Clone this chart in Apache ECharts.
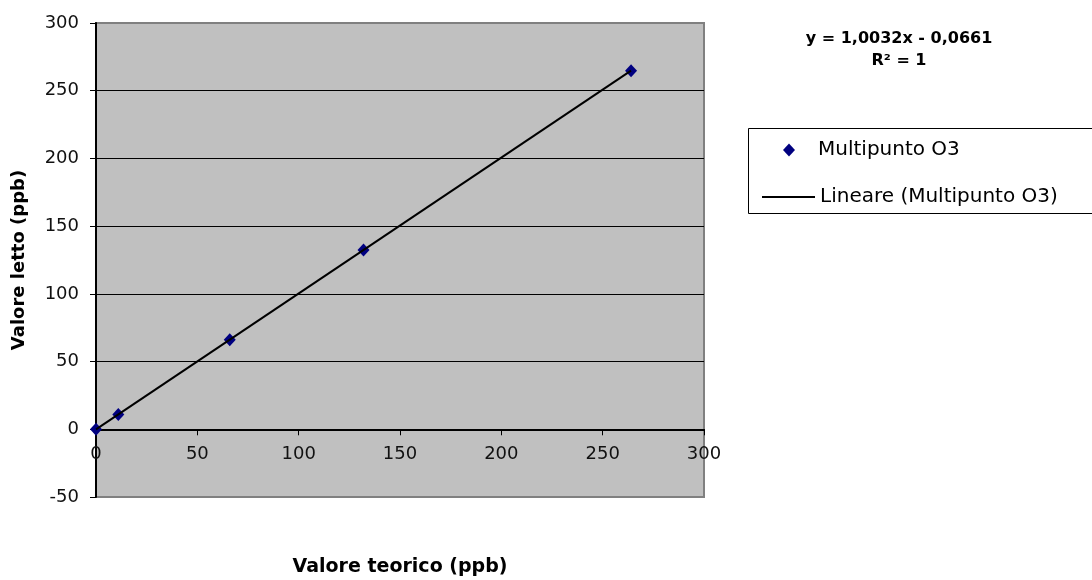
<!DOCTYPE html>
<html>
<head>
<meta charset="utf-8">
<script src="https://cdn.jsdelivr.net/npm/echarts@6/dist/echarts.min.js"></script>
<style>
  html, body { margin: 0; padding: 0; background: #fff; }
  #chart { width: 1092px; height: 580px; }
</style>
</head>
<body>
<div id="chart"></div>
<script>
// Multipoint O3 calibration: theoretical vs. read values (ppb)
const theoreticalPpb = [0, 11, 66, 132, 264];
const readPpb = [0, 11, 66.1, 132.4, 264.8];

// Linear trendline coefficients (as stated in the equation label)
const trendSlope = 1.0032;
const trendIntercept = -0.0661;
const trendR2 = 1;

// Axis ranges and tick step
const xAxisRange = [0, 300];
const yAxisRange = [-50, 300];
const tickStep = 50;

const seriesName = 'Multipunto O3';
const trendName = 'Lineare (Multipunto O3)';
const xAxisTitle = 'Valore teorico (ppb)';
const yAxisTitle = 'Valore letto (ppb)';

const FONT = '"DejaVu Sans", "Liberation Sans", Arial, sans-serif';

const points = theoreticalPpb.map((x, i) => [x, readPpb[i]]);
const xMin = Math.min(...theoreticalPpb);
const xMax = Math.max(...theoreticalPpb);
const trendLine = [xMin, xMax].map(x => [x, trendSlope * x + trendIntercept]);

const fmtIt = v => String(v).replace('.', ',');
const equationText =
  'y = ' + fmtIt(trendSlope) + 'x ' + (trendIntercept < 0 ? '- ' : '+ ') +
  fmtIt(Math.abs(trendIntercept)) + '\nR\u00B2 = ' + trendR2;

const chart = echarts.init(document.getElementById('chart'), null, { renderer: 'canvas' });

chart.setOption({
  backgroundColor: '#ffffff',
  animation: false,
  grid: {
    left: 96, right: 388, top: 23, bottom: 83,
    outerBoundsMode: 'none',
    containLabel: false,
    show: true,
    backgroundColor: '#C0C0C0',
    borderColor: '#808080',
    borderWidth: 2
  },
  xAxis: {
    type: 'value',
    min: xAxisRange[0], max: xAxisRange[1], interval: tickStep,
    name: xAxisTitle,
    nameLocation: 'middle',
    nameGap: 61,
    nameTextStyle: { fontFamily: FONT, fontWeight: 'bold', fontSize: 19, color: '#000' },
    axisLine: { onZero: true, lineStyle: { color: '#000', width: 2 } },
    axisTick: { show: true, length: 6, inside: false, lineStyle: { color: '#000', width: 1 } },
    // tick labels sit just under the zero line
    axisLabel: { fontFamily: FONT, fontSize: 18, color: '#111', margin: -52 },
    splitLine: { show: false }
  },
  yAxis: {
    type: 'value',
    min: yAxisRange[0], max: yAxisRange[1], interval: tickStep,
    name: yAxisTitle,
    nameLocation: 'middle',
    nameGap: 68,
    nameTextStyle: { fontFamily: FONT, fontWeight: 'bold', fontSize: 18, color: '#000' },
    axisLine: { show: true, onZero: false, lineStyle: { color: '#000', width: 2 } },
    axisTick: { show: true, length: 6, lineStyle: { color: '#000', width: 1 } },
    axisLabel: { fontFamily: FONT, fontSize: 18, color: '#111', margin: 17 },
    splitLine: {
      show: true,
      showMinLine: false,
      showMaxLine: false,
      lineStyle: { color: '#000', width: 1 }
    }
  },
  legend: [
    {
      data: [{ name: seriesName, icon: 'diamond' }],
      left: 783, top: 140,
      padding: 0,
      itemWidth: 12, itemHeight: 13,
      textStyle: { fontFamily: FONT, fontSize: 20, color: '#000', padding: [0, 0, 0, 18] },
      selectedMode: false
    },
    {
      data: [{ name: trendName, icon: 'path://M0,0H53V2H0Z' }],
      left: 762, top: 187,
      padding: 0,
      itemWidth: 53, itemHeight: 2,
      itemStyle: { color: '#000' },
      textStyle: { fontFamily: FONT, fontSize: 20, color: '#000' },
      selectedMode: false
    }
  ],
  graphic: [
    {
      type: 'rect',
      shape: { x: 748.5, y: 128.5, width: 360, height: 85 },
      style: { fill: 'none', stroke: '#000', lineWidth: 1 },
      silent: true
    },
    {
      type: 'text',
      x: 899, y: 28,
      style: {
        text: equationText,
        font: 'bold 16px ' + FONT,
        fill: '#000',
        textAlign: 'center',
        lineHeight: 22
      },
      silent: true
    }
  ],
  series: [
    {
      name: seriesName,
      type: 'scatter',
      data: points,
      symbol: 'diamond',
      symbolSize: [12, 13],
      itemStyle: { color: '#000080', opacity: 1 },
      z: 2
    },
    {
      name: trendName,
      type: 'line',
      data: trendLine,
      symbol: 'none',
      itemStyle: { color: '#000' },
      lineStyle: { color: '#000', width: 2 },
      z: 3
    }
  ]
});
</script>
</body>
</html>
